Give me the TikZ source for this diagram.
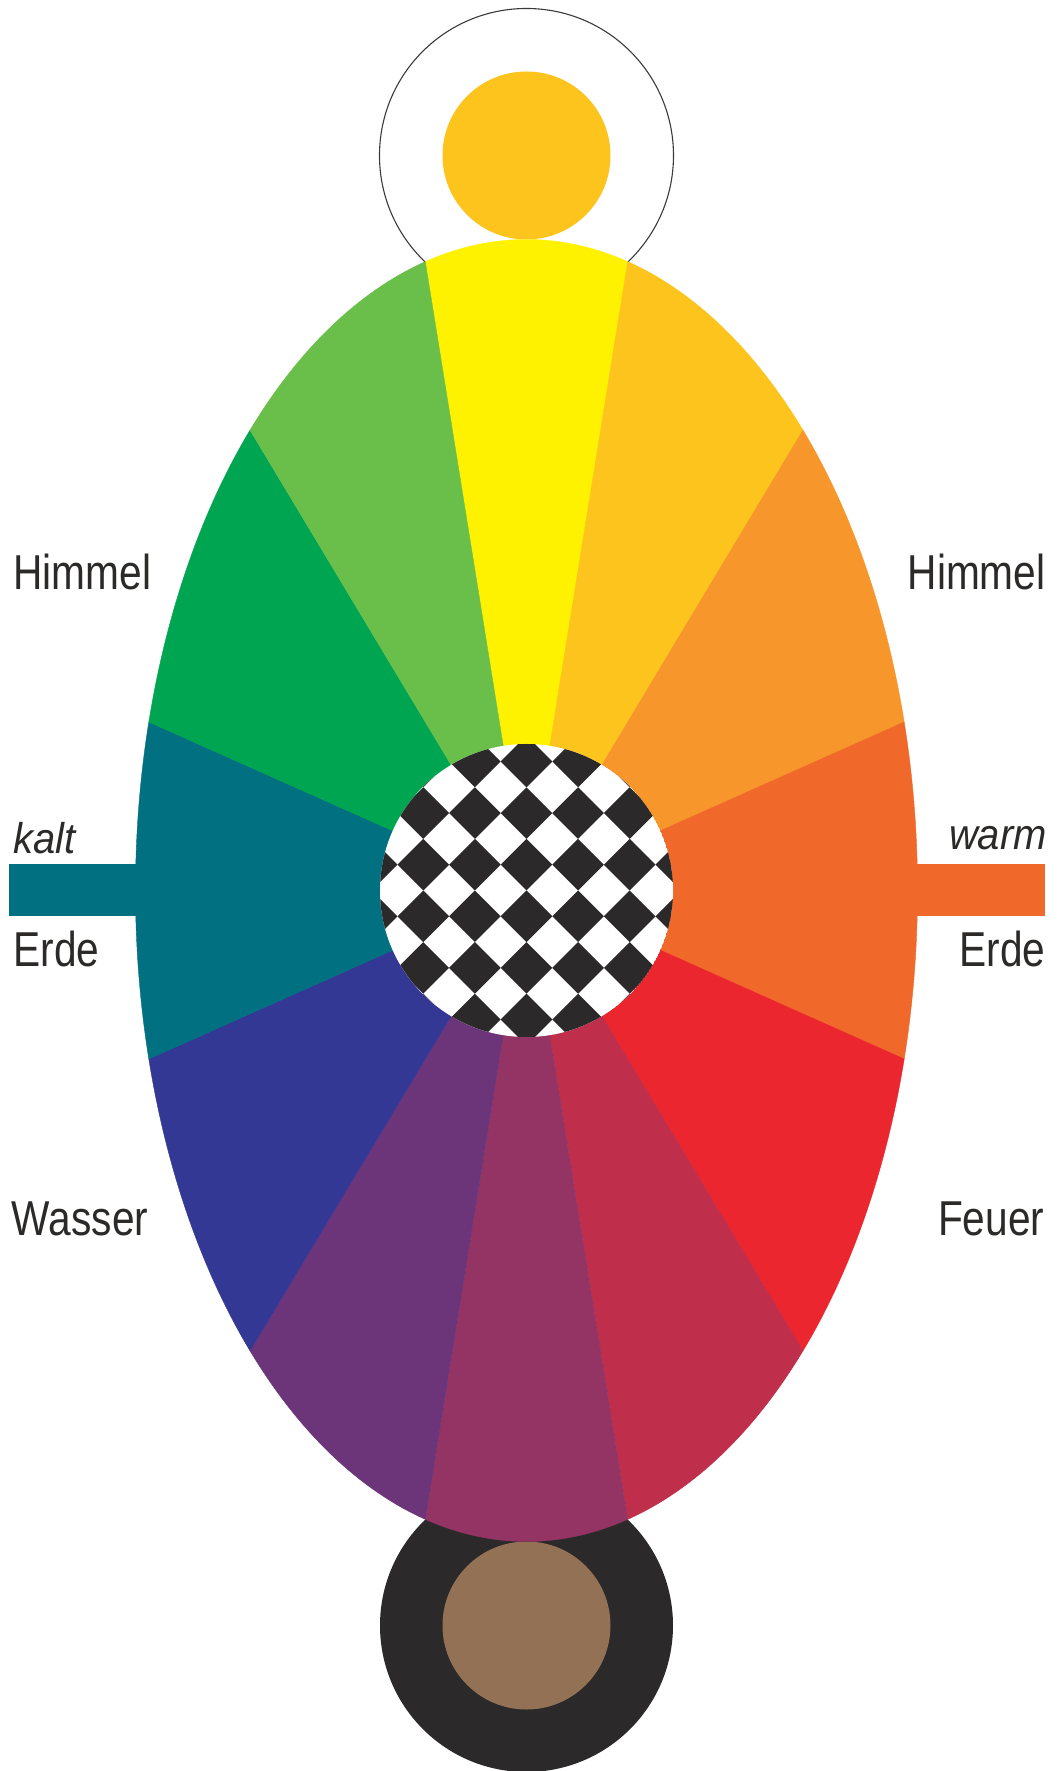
\documentclass[tikz,border=0pt]{standalone}
\usepackage{fontspec}
\newfontfamily\lblfont{Liberation Sans}[FakeStretch=0.83]
\newfontfamily\itlblfont{Liberation Sans}[FakeStretch=0.93]
\definecolor{cY}{HTML}{FFF200}
\definecolor{cG}{HTML}{FDC41E}
\definecolor{cO}{HTML}{F7962B}
\definecolor{cRO}{HTML}{F0682A}
\definecolor{cR}{HTML}{EC262F}
\definecolor{cCr}{HTML}{BF2E4B}
\definecolor{cM}{HTML}{933464}
\definecolor{cP}{HTML}{6C3479}
\definecolor{cB}{HTML}{343895}
\definecolor{cT}{HTML}{017080}
\definecolor{cGr}{HTML}{00A551}
\definecolor{cLG}{HTML}{6ABF4B}
\definecolor{cBrown}{HTML}{937155}
\definecolor{cBlk}{HTML}{2B292A}
\definecolor{txt}{HTML}{2B2A29}
\definecolor{linegray}{HTML}{3A3A3A}
\begin{document}
\begin{tikzpicture}[x=1pt,y=1pt,
  lbl/.style={inner sep=0pt, text=txt, font=\lblfont\fontsize{49}{49}\selectfont},
  itlbl/.style={inner sep=0pt, text=txt, font=\itlblfont\itshape\fontsize{43}{43}\selectfont},
  sector/.style={fill=#1, draw=#1, line width=0.4pt}]
\useasboundingbox (-526.5,-880.5) rectangle (531.5,890.5);
\fill[white] (-526.5,-880.5) rectangle (531.5,890.5);
% top sun circle
\draw[line width=1.1pt, draw=linegray] (0,735) circle[radius=147pt];
\fill[cG] (0,735) circle[radius=84pt];
% bottom earth circle
\fill[cBlk] (0,-735) circle[radius=146.5pt];
\fill[cBrown] (0,-735) circle[radius=84pt];
% side bars
\fill[cT] (-517.5,-26) rectangle (-370,26);
\fill[cRO] (370,-26) rectangle (518.5,26);
% colour sectors on the ellipse
\foreach \a/\c in {75/cY, 45/cG, 15/cO, -15/cRO, -45/cR, -75/cCr, -105/cM, -135/cP, -165/cB, 165/cT, 135/cGr, 105/cLG}{
  \path[sector=\c] (0,0) -- (\a:391pt and 651pt)
    arc[start angle=\a, end angle=\a+30, x radius=391pt, y radius=651pt] -- cycle;
}
% checkered centre
\begin{scope}
\clip (0,0) circle[radius=146.5pt];
\fill[white] (0,0) circle[radius=146.5pt];
\foreach \k in {-3,...,3}{
  \foreach \j in {-4,...,3}{
    \fill[cBlk] ({\k*51.6-25.8},{(\j+0.5)*51.6}) -- ++(25.8,25.8) -- ++(25.8,-25.8) -- ++(-25.8,-25.8) -- cycle;
  }
}
\end{scope}
% labels
\node[lbl, anchor=base west] (himmelL) at (-513.2,300.5) {Himmel};
\node[lbl, anchor=base east] (himmelR) at (519.2,300.5) {Himmel};
\node[itlbl, anchor=base west] (kalt) at (-513.2,37.2) {kalt};
\node[itlbl, anchor=base east] (warm) at (520.5,40.5) {warm};
\node[lbl, anchor=base west] (erdeL) at (-513.2,-76.2) {Erde};
\node[lbl, anchor=base east] (erdeR) at (519.2,-76.2) {Erde};
\node[lbl, anchor=base west] (wasser) at (-514.8,-344.5) {Wasser};
\node[lbl, anchor=base east] (feuer) at (518,-344.5) {Feuer};
\end{tikzpicture}
\end{document}
